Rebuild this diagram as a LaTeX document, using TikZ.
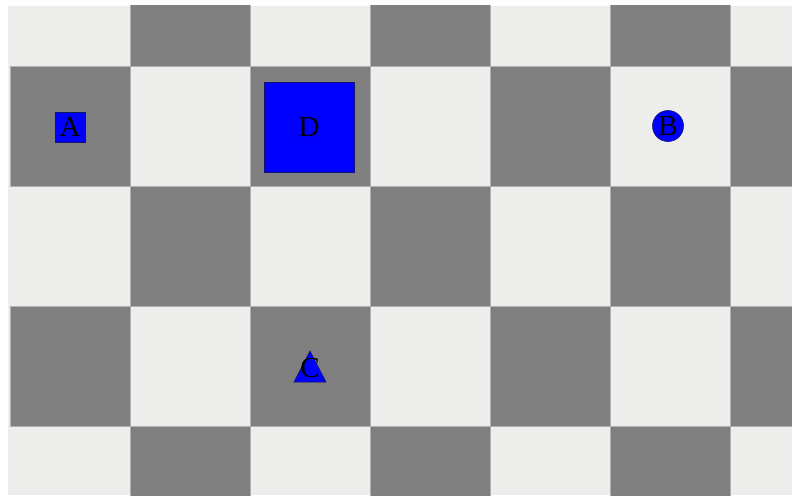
\documentclass[tikz,border=0pt]{standalone}
\usepackage{fontspec}
\setmainfont{Liberation Serif}
\definecolor{lightc}{RGB}{237,237,235}
\definecolor{darkc}{RGB}{128,128,128}
\definecolor{gridc}{RGB}{176,176,176}
\definecolor{edgec}{RGB}{20,20,110}
\begin{document}
\begin{tikzpicture}[x=1pt,y=-1pt,
  darkcell/.style={fill=darkc,draw=gridc,line width=0.8pt},
  piece/.style={fill=blue,draw=edgec,line width=0.6pt,inner sep=0pt,
    font=\fontsize{29}{31}\selectfont},
  label/.style={inner sep=0pt,font=\fontsize{29}{31}\selectfont}]
\useasboundingbox (0,0) rectangle (792,495);
\fill[white] (0,0) rectangle (792,495);
\begin{scope}
  \clip (8,6) rectangle (792,495);
  \fill[lightc] (8,6) rectangle (792,495);
  \foreach \i in {0,...,6} {
    \foreach \j in {-1,...,3} {
      \pgfmathtruncatemacro\p{mod(\i+\j+10,2)}
      \ifnum\p=0
        \draw[darkcell] (10+120*\i,66+120*\j) rectangle (130+120*\i,186+120*\j);
      \fi
    }
  }
\end{scope}
\node[piece,minimum size=30pt] (A) at (70,127) {A};
\node[piece,minimum size=90pt] (D) at (309,127) {D};
\node[piece,circle,minimum size=31pt] (B) at (668,126) {B};
\coordinate (Ctop) at (310,351);
\filldraw[fill=blue,draw=edgec,line width=0.6pt] (Ctop) -- ++(16,31) -- ++(-32,0) -- cycle;
\node[label] (C) at (310,368) {C};
\end{tikzpicture}
\end{document}
